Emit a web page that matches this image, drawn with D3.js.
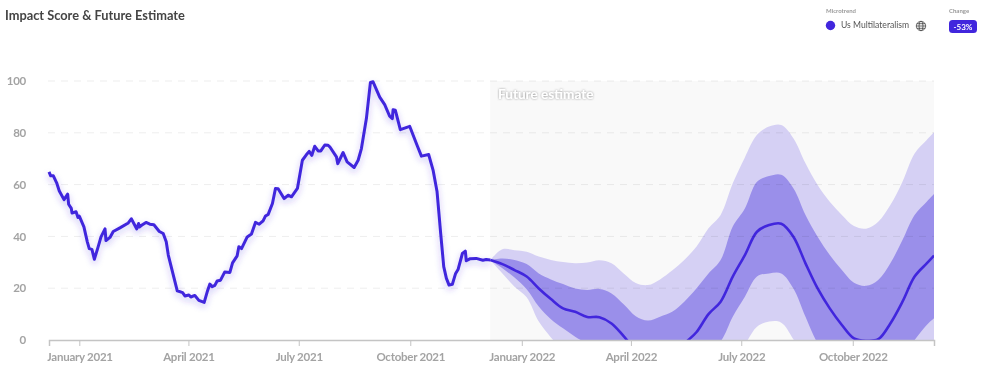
<!DOCTYPE html>
<html lang="en">
  <head>
    <meta charset="utf-8" />
    <title>Impact Score &amp; Future Estimate</title>
    <script src="https://cdn.jsdelivr.net/npm/d3@7"></script>
    <style>
      html,
      body {
        margin: 0;
        padding: 0;
        background: #fff;
        font-family: Lato, "Noto Sans", sans-serif;
      }

      svg {
        display: block;
        filter: blur(0.3px);
      }

      .axis path,
      .axis line {
        fill: none;
        stroke: #c4c4c4;
      }

      .axis path {
        stroke-width: 1.5;
      }

      .tick text {
        fill: #a3a3a3;
        font-size: 11.5px;
        font-weight: 700;
        letter-spacing: -0.25px;
        font-family: Lato, sans-serif;
      }

      .grid {
        stroke: rgba(0, 0, 0, 0.07);
        stroke-dasharray: 7 6;
      }
    </style>
  </head>

  <body>
    <svg id="chart" width="983" height="373"></svg>

    <script>
      // days are counted from startDate
      var startDate = new Date(Date.UTC(2020, 11, 7));
      var endDate = new Date(Date.UTC(2022, 11, 7));
      var futureStartDay = 364;

      var tickDates = ["2021-01-01", "2021-04-01", "2021-07-01", "2021-10-01", "2022-01-01", "2022-04-01", "2022-07-01", "2022-10-01"];
      var yTicks = [0, 20, 40, 60, 80, 100];

      var historyDays = [
        0, 1.4, 3.6, 6.3, 8.5, 12.4, 15.4, 16.2, 18.4, 19, 22.3, 23.9, 25, 28.8, 31.6, 33.2, 35.4, 37.4, 40.1, 42.9,
        46.2, 47, 50.3, 53, 58.5, 65.4, 67.9, 70, 72.3, 73.9, 74.5, 76.4, 80, 83.2, 86.5, 91, 94.2, 96.7, 98.4, 105.8,
        110.2, 112.1, 115.4, 117, 120.3, 123.6, 128, 130.5, 132.7, 134.6, 136.8, 138.7, 141.5, 145, 149.2, 151.4, 155.2, 156.6, 158.8, 163.5,
        167, 170.3, 173.4, 176.6, 178.6, 180.8, 184.3, 186.8, 189, 193.9, 197.3, 200, 204.9, 209, 212.4, 214.6, 216.8, 219.2, 222, 224.2,
        227.5, 230.2, 231.6, 237.1, 238.2, 242.6, 245.9, 251.7, 255, 257.7, 261.8, 265.1, 267.3, 272.8, 276.9, 281, 283.2, 283.8, 285.7, 289.8,
        297.5, 303.6, 307.2, 313.2, 316.8, 320.1, 323.1, 325.6, 327.8, 330, 332.7, 335.4, 337.4, 341, 343.4, 344.2, 347.5, 352.4, 357.9, 360.6, 364
      ];
      var historyValues = [
        64.9, 63.4, 63.4, 60.7, 57.5, 54.2, 56.3, 52.4, 50.8, 49, 49.5, 47.3, 47.8, 43.7, 37.9, 35.3, 35, 31.2, 35.3, 39.8,
        42.9, 38.4, 39.6, 41.9, 43.3, 45.2, 46.8, 45, 42.9, 45, 43.6, 44.3, 45.4, 44.7, 44.5, 41.9, 41.1, 37.9, 32.8, 19,
        18.3, 17, 17.4, 16.6, 17.2, 15.3, 14.5, 18.6, 21.6, 20.6, 21.1, 22.8, 23.1, 26.3, 26.1, 29.8, 32.5, 36, 35.3, 39.8,
        40.9, 45.4, 44.7, 46, 47.9, 48.5, 52.7, 58.5, 58.4, 54.6, 55.9, 55.3, 58.5, 69.4, 71.6, 72.8, 71.3, 74.8, 73, 73,
        75.3, 75.2, 74.6, 70.7, 68.1, 72.4, 68.8, 66.6, 69.4, 73.9, 85.5, 99.4, 99.7, 93.8, 90.9, 86.4, 85.5, 88.9, 88.7, 81.2,
        82.5, 75.2, 71, 71.6, 65.6, 57.2, 41.1, 28.3, 23.8, 21.2, 21.5, 25.7, 27.2, 33.4, 34.3, 30.6, 31.4, 31.5, 30.8, 31.1, 30.9
      ];

      var forecastDays = [
        364, 374, 384, 394, 404, 414, 424, 434, 444, 454, 464, 474, 484, 494, 504, 514, 524, 534, 544,
        554, 564, 574, 584, 594, 604, 614, 624, 634, 644, 654, 664, 674, 684, 694, 704, 714, 724, 730
      ];
      var outerHigh = [
        30.9, 35, 34.7, 34.1, 32.2, 30.9, 30.1, 29.6, 29.9, 30.8, 29.6, 25.7, 22, 21.2, 23.4, 26.8, 30.9, 36, 43.1,
        48.3, 60.5, 70.5, 79.2, 82.4, 83, 77.9, 68.2, 59.8, 53.4, 48.3, 44, 43, 45.7, 52.1, 61.1, 72, 77.2, 80.2
      ];
      var innerHigh = [
        30.9, 31.5, 30.9, 29.3, 25.7, 23.4, 21.6, 19.9, 19.3, 19.7, 18, 13.8, 9.2, 7.5, 9, 10.9, 14.8, 19.9, 25.7,
        30.9, 43.8, 50.8, 61.1, 63.3, 63.8, 58.6, 48.3, 39.9, 32.8, 27, 22.1, 20.9, 23.2, 29.6, 38.6, 48.3, 53.4, 56.4
      ];
      var forecastMean = [
        30.9, 29.3, 27, 24.5, 19.9, 15.8, 12.2, 10.9, 8.9, 8.8, 6.4, 1.5, -4, -7, -8, -7, -1.5, 3, 10,
        14.8, 24.5, 32.8, 41.8, 44.4, 44.9, 39.9, 29.6, 19.9, 12.2, 5.8, 0.6, -0.3, 0.3, 6.4, 14.8, 24.5, 29.6, 32.6
      ];
      var innerLow = [
        30.9, 27.7, 24.1, 19.6, 12.9, 8, 4.5, 1.3, -1.5, -4, -7, -10, -13, -15, -16, -14, -12, -8, -4,
        -0.5, 9, 16.7, 24.5, 25.7, 25.7, 19.9, 9, -1.3, -8, -14, -18, -20, -18, -12, -6, 0, 5.8, 8.4
      ];
      var outerLow = [
        30.9, 25.7, 20.6, 16.5, 7.1, 1, -4, -8, -11, -14, -17, -20, -23, -25, -26, -24, -22, -18, -14,
        -10, -6, -1.5, 5.1, 7.1, 6.7, 0.3, -8, -14, -20, -26, -30, -32, -30, -24, -18, -12, -6, -3
      ];

      var purple = "#4126dd";

      var svg = d3.select("#chart");
      var x = d3.scaleUtc().domain([startDate, endDate]).range([49, 934]);
      var y = d3.scaleLinear().domain([0, 100]).range([340, 81]);

      function dayX(d) {
        return x(startDate.getTime() + d * 864e5);
      }

      var defs = svg.append("defs");
      defs
        .append("clipPath")
        .attr("id", "plot")
        .append("rect")
        .attr("x", 49)
        .attr("y", 70)
        .attr("width", 885)
        .attr("height", 270);
      defs
        .append("clipPath")
        .attr("id", "axisclip")
        .append("rect")
        .attr("x", 47.5)
        .attr("y", 330)
        .attr("width", 900)
        .attr("height", 40);
      var glow = defs
        .append("filter")
        .attr("id", "glow")
        .attr("x", "-10%")
        .attr("y", "-10%")
        .attr("width", "120%")
        .attr("height", "130%");
      glow
        .append("feDropShadow")
        .attr("dx", 0)
        .attr("dy", 3)
        .attr("stdDeviation", 3)
        .attr("flood-color", purple)
        .attr("flood-opacity", 0.3);
      var textShadow = defs.append("filter").attr("id", "textshadow");
      textShadow
        .append("feDropShadow")
        .attr("dx", 0)
        .attr("dy", 0)
        .attr("stdDeviation", 1)
        .attr("flood-color", "#777")
        .attr("flood-opacity", 0.8);

      // title
      svg
        .append("text")
        .attr("x", 5)
        .attr("y", 20)
        .attr("fill", "#444")
        .attr("font-size", 12.8)
        .attr("font-weight", 700)
        .text("Impact Score & Future Estimate");

      // future estimate background
      svg
        .append("rect")
        .attr("x", dayX(futureStartDay))
        .attr("y", y(100))
        .attr("width", x.range()[1] - dayX(futureStartDay))
        .attr("height", y(0) - y(100))
        .attr("fill", "#f9f9f9");

      // bands
      var plot = svg.append("g").attr("clip-path", "url(#plot)");
      function band(low, high, color) {
        var area = d3
          .area()
          .x((d, i) => dayX(forecastDays[i]))
          .y0((d, i) => y(low[i]))
          .y1((d, i) => y(high[i]))
          .curve(d3.curveCatmullRom.alpha(0.5));
        plot.append("path").attr("d", area(forecastDays)).attr("fill", color);
      }
      band(outerLow, outerHigh, "#d5d0f4");
      band(innerLow, innerHigh, "#9a8fea");

      // grid
      svg
        .selectAll(".grid")
        .data(yTicks.slice(1))
        .enter()
        .append("line")
        .attr("class", "grid")
        .attr("x1", 48)
        .attr("x2", 934)
        .attr("y1", (d) => y(d))
        .attr("y2", (d) => y(d));

      // lines
      var historyLine = d3
        .line()
        .x((d, i) => dayX(historyDays[i]))
        .y((d) => y(d));
      svg
        .append("path")
        .attr("d", historyLine(historyValues))
        .attr("fill", "none")
        .attr("stroke", purple)
        .attr("stroke-width", 3)
        .attr("stroke-linejoin", "round")
        .attr("filter", "url(#glow)");

      var meanLine = d3
        .line()
        .x((d, i) => dayX(forecastDays[i]))
        .y((d) => y(d))
        .curve(d3.curveCatmullRom.alpha(0.5));
      plot
        .append("path")
        .attr("d", meanLine(forecastMean))
        .attr("fill", "none")
        .attr("stroke", purple)
        .attr("stroke-width", 2.6);

      svg
        .append("text")
        .attr("x", 498)
        .attr("y", 98.5)
        .attr("fill", "#fff")
        .attr("font-size", 13.6)
        .attr("font-weight", 700)
        .attr("filter", "url(#textshadow)")
        .text("Future estimate");

      // axes
      var xAxis = d3
        .axisBottom(x)
        .tickValues(tickDates.map((d) => new Date(d + "T00:00:00Z")))
        .tickFormat(d3.utcFormat("%B %Y"))
        .tickSizeInner(6)
        .tickSizeOuter(6)
        .tickPadding(7);
      svg
        .append("g")
        .attr("class", "axis")
        .attr("clip-path", "url(#axisclip)")
        .append("g")
        .attr("transform", "translate(0,340)")
        .call(xAxis);

      var yAxis = d3.axisLeft(y).tickValues(yTicks).tickSize(0).tickPadding(0);
      svg
        .append("g")
        .attr("class", "axis")
        .attr("transform", "translate(26,0)")
        .call(yAxis)
        .call((g) => g.select(".domain").remove());

      // legend
      var legend = svg.append("g");
      legend
        .append("text")
        .attr("x", 826)
        .attr("y", 13)
        .attr("fill", "#999")
        .attr("font-size", 6)
        .attr("font-weight", 700)
        .text("Microtrend");
      legend
        .append("circle")
        .attr("cx", 830.5)
        .attr("cy", 25.5)
        .attr("r", 4.7)
        .attr("fill", purple);
      legend
        .append("text")
        .attr("x", 841)
        .attr("y", 28)
        .attr("fill", "#555")
        .attr("font-size", 8.6)
        .text("Us Multilateralism");
      var globe = legend
        .append("g")
        .attr("transform", "translate(921,26)")
        .attr("fill", "none")
        .attr("stroke", "#444")
        .attr("stroke-width", 0.8);
      globe.append("circle").attr("r", 4.7);
      globe.append("ellipse").attr("rx", 2).attr("ry", 4.7);
      globe.append("line").attr("x1", -4.7).attr("x2", 4.7);
      globe.append("line").attr("x1", -4.1).attr("x2", 4.1).attr("y1", -2.3).attr("y2", -2.3);
      globe.append("line").attr("x1", -4.1).attr("x2", 4.1).attr("y1", 2.3).attr("y2", 2.3);
      legend
        .append("text")
        .attr("x", 949)
        .attr("y", 13)
        .attr("fill", "#999")
        .attr("font-size", 6)
        .attr("font-weight", 700)
        .text("Change");
      legend
        .append("rect")
        .attr("x", 949)
        .attr("y", 20)
        .attr("width", 28)
        .attr("height", 13)
        .attr("rx", 3.5)
        .attr("fill", purple);
      legend
        .append("text")
        .attr("x", 963)
        .attr("y", 29.5)
        .attr("fill", "#fff")
        .attr("font-size", 8)
        .attr("font-weight", 700)
        .attr("text-anchor", "middle")
        .text("-53%");
    </script>
  </body>
</html>
